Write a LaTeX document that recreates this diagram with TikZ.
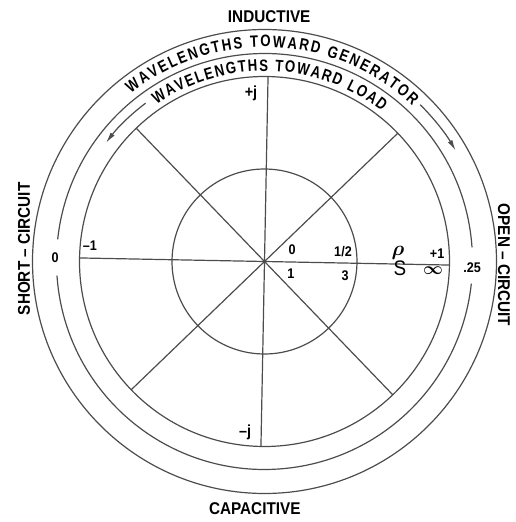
\documentclass[tikz,border=0pt]{standalone}
\usepackage{fontspec}
\usepackage{amsmath}
\usepackage{tikz}
\usetikzlibrary{arrows.meta,decorations.text}
\newfontfamily\letterfont[FakeStretch=0.9]{Liberation Sans}
\newfontfamily\narrowfont[FakeStretch=0.8]{Liberation Sans}
\newcommand\arcfont{\letterfont\bfseries\fontsize{17}{17}\selectfont}
\newcommand\ringfont{\narrowfont\bfseries\fontsize{16.5}{16.5}\selectfont}

\begin{document}
\begin{tikzpicture}[x=1pt, y=1pt,
    chart/.style={black!70, line width=1.2pt},
    caps/.style={font=\arcfont, inner sep=0pt},
    lbl/.style={font=\letterfont\bfseries\fontsize{14}{14}\selectfont, inner sep=0pt}]
  \useasboundingbox (-264.5,-260.5) rectangle (251.5,261.5);

  \begin{scope}[rotate=-1.1]
  \coordinate (o) at (0,0);

  % Circles - outer ring, wavelength ring, |rho|=1 and |rho|=1/2
  \draw[chart] (o) circle (232);
  \draw[chart] (5:208) arc (5:175:208);
  \draw[chart] (185:208) arc (185:355:208);
  \draw[chart] (o) circle (185);
  \draw[chart] (o) circle (92.5);

  % Spokes
  \draw[chart] (180:185) -- (o) -- (0:185);
  \draw[chart] (90:185) -- (o) -- (270:185);
  \draw[chart] (135:185) -- (o) -- (315:185);
  \draw[chart] (45:185) -- (o) -- (225:185);

  % Wavelength scales
  \path[decorate, decoration={text along path, text align=fit to path,
      text={|\ringfont|WAVELENGTHS TOWARD GENERATOR}}]
    (129.6:214.5) arc (129.6:47.6:214.5);
  \path[decorate, decoration={text along path, text align=fit to path,
      text={|\ringfont|WAVELENGTHS TOWARD LOAD}}]
    (125.6:190.5) arc (125.6:53.1:190.5);
  \coordinate (gen0) at (46.3:221);
  \coordinate (load0) at (128:198);
  \draw[chart, -{Latex[length=11pt, width=5pt]}] (gen0) arc (46.3:31.2:221);
  \draw[chart, -{Latex[length=11pt, width=5pt]}] (load0) arc (128:144.3:198);

  % Outer labels
  \node[caps] (induct) at (0,245) {INDUCTIVE};
  \node[caps] (capac) at (-5,-247) {CAPACITIVE};
  \node[caps, rotate=90] (short) at (-240.7,8) {SHORT – CIRCUIT};
  \node[caps, rotate=-90] (open) at (239.6,1) {OPEN – CIRCUIT};

  % Scale values
  \node[lbl] (wl0) at (-209.5,-0.5) {0};
  \node[lbl] (wl25) at (207.6,-2.5) {.25};
  \node[lbl] (mone) at (-174.8,12.8) {–1};
  \node[lbl] (pone) at (172.4,11.5) {+1};
  \node[lbl, font=\letterfont\bfseries\fontsize{16}{16}\selectfont] (pj) at (-16.7,167.8) {+j};
  \node[lbl, font=\letterfont\bfseries\fontsize{16}{16}\selectfont] (mj) at (-16.2,-170.8) {–j};
  \node[lbl] (rho0) at (27.3,12) {0};
  \node[lbl] (swr1) at (26.7,-11.5) {1};
  \node[lbl] (rhohalf) at (78.3,11.5) {1/2};
  \node[lbl] (swr3) at (80.8,-12.5) {3};
  \node[inner sep=0pt, font=\fontsize{20}{20}\selectfont\boldmath] (rho) at (133.4,10.8) {$\rho$};
  \node[inner sep=0pt, font=\letterfont\fontsize{21}{21}\selectfont] (swr) at (135.6,-4.4) {S};
  \node[inner sep=0pt, font=\fontsize{19}{19}\selectfont\boldmath] (swrinf) at (168.6,-5.5) {$\infty$};
  \end{scope}
\end{tikzpicture}
\end{document}
